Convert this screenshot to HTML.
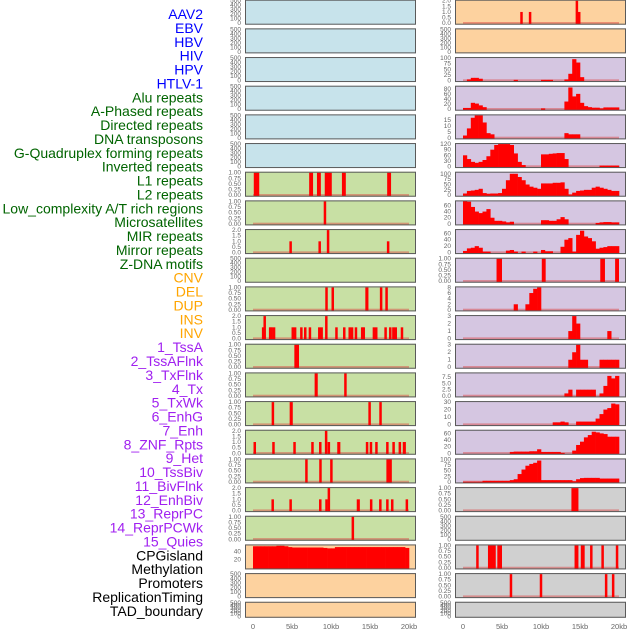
<!DOCTYPE html>
<html><head><meta charset="utf-8"><style>
html,body{margin:0;padding:0;background:#fff;width:630px;height:630px;overflow:hidden}
svg{display:block;font-family:"Liberation Sans",sans-serif}
</style></head><body>
<svg id="chart" width="630" height="630" viewBox="0 0 630 630" xmlns="http://www.w3.org/2000/svg"></svg>
<script>
// ---- data ----
const trackLabels = ["AAV2","EBV","HBV","HIV","HPV","HTLV-1","Alu repeats","A-Phased repeats","Directed repeats","DNA transposons","G-Quadruplex forming repeats","Inverted repeats","L1 repeats","L2 repeats","Low_complexity A/T rich regions","Microsatellites","MIR repeats","Mirror repeats","Z-DNA motifs","CNV","DEL","DUP","INS","INV","1_TssA","2_TssAFlnk","3_TxFlnk","4_Tx","5_TxWk","6_EnhG","7_Enh","8_ZNF_Rpts","9_Het","10_TssBiv","11_BivFlnk","12_EnhBiv","13_ReprPC","14_ReprPCWk","15_Quies","CPGisland","Methylation","Promoters","ReplicationTiming","TAD_boundary"];
const labelColors = ["#0000ff","#0000ff","#0000ff","#0000ff","#0000ff","#0000ff","#006400","#006400","#006400","#006400","#006400","#006400","#006400","#006400","#006400","#006400","#006400","#006400","#006400","#ffa500","#ffa500","#ffa500","#ffa500","#ffa500","#a020f0","#a020f0","#a020f0","#a020f0","#a020f0","#a020f0","#a020f0","#a020f0","#a020f0","#a020f0","#a020f0","#a020f0","#a020f0","#a020f0","#a020f0","#000","#000","#000","#000","#000"];
const xTickValues = [0,5,10,15,20];
const xTickLabels = ["0","5kb","10kb","15kb","20kb"];

// spikes: [startKb, endKb, value]
const aluSpikes = [[0.1,0.8,1],[7.2,7.7,1],[8.2,8.7,1],[9.2,10.1,1],[11.4,11.9,1],[17.2,17.7,1]];
const aPhasedSpikes = [[9.1,9.35,1]];
const directedSpikes = [[4.7,4.95,1],[8.4,8.7,1],[9.5,9.75,2],[17.2,17.45,1]];
const gquadSpikes = [[9.3,9.55,1],[10.1,10.35,1],[14.4,14.8,1],[16.3,16.55,1],[17.0,17.25,1]];
const invertedSpikes = [[1.2,1.4,1],[1.4,1.6,2],[2.1,2.3,1],[2.3,2.5,1],[2.6,2.8,1],[5.0,5.2,1],[5.3,5.5,1],[6.1,6.3,1],[6.6,6.8,1],[7.2,7.4,1],[8.4,8.6,1],[8.7,8.9,1],[9.3,9.5,2],[10.6,10.8,1],[11.6,11.8,1],[12.3,12.5,1],[12.6,12.8,1],[13.1,13.3,1],[13.9,14.1,1],[14.1,14.3,1],[15.4,15.6,1],[15.7,15.9,1],[16.9,17.1,1],[17.5,17.7,1],[17.9,18.1,1],[18.2,18.4,1],[19.0,19.2,1]];
const l1Spikes = [[5.3,5.9,1]];
const l2Spikes = [[7.9,8.3,1],[11.7,12.0,1]];
const lowComplexSpikes = [[2.4,2.7,1],[4.7,5.1,1],[14.8,15.1,1],[16.2,16.5,1]];
const microSpikes = [[0.1,0.35,1],[2.5,2.75,1],[5.2,5.45,1],[7.5,7.75,1],[8.5,8.75,1],[9.3,9.45,2],[9.6,9.85,1],[10.8,11.2,1],[14.5,14.75,1],[15.0,15.25,1],[15.7,15.95,1],[17.1,17.35,1],[17.9,18.15,1],[18.7,18.95,1],[19.2,19.6,1]];
const mirSpikes = [[6.7,7.0,1],[8.5,8.8,1],[9.9,10.2,1],[17.1,17.8,1]];
const mirrorSpikes = [[2.4,2.65,1],[4.7,4.95,1],[8.5,8.75,1],[9.3,9.55,1],[9.6,9.85,2],[13.3,13.7,1],[15.0,15.3,1],[16.2,16.45,1],[17.1,17.35,1],[17.7,18.0,1],[19.6,19.85,1]];
const zdnaSpikes = [[12.7,12.9,1]];
const insSpikes = [[7.4,7.6,1],[8.5,8.7,1],[14.5,14.7,2],[14.8,15.0,1]];
const znfSpikes = [[4.3,5.0,1],[10.1,10.6,1],[17.6,18.2,1],[19.5,20.0,1]];
const cpgSpikes = [[13.9,14.8,1]];
const promoterSpikes = [[1.7,2.0,1],[3.2,4.2,1],[4.4,5.0,1],[14.3,14.8,1],[15.1,15.6,1],[16.3,16.6,1],[17.8,18.0,1],[19.6,19.9,1]];
const replicationSpikes = [[6.0,6.3,1],[9.9,10.1,1],[18.2,18.5,1],[19.1,19.4,1]];

// profiles: 40 bins of 0.5 kb
const cnvBins = [52,52,52,52,52,52,53,53,52,50,49,49,49,49,49,49,49,49,48,47,47,50,50,50,50,50,50,50,50,50,50,50,50,50,50,50,50,50,50,48];
const tssABins = [0,5,12,12,8,0,0,0,0,0,0,0,0,3,0,0,0,0,0,0,3,3,3,0,0,0,5,30,95,80,15,0,0,0,0,0,0,0,0,0];
const tssAFlnkBins = [5,5,25,22,15,8,0,0,0,0,0,0,0,0,0,0,0,0,0,0,3,0,0,0,0,0,30,85,50,60,25,12,8,6,6,3,7,7,7,7];
const txFlnkBins = [2,8,17,19,19,13,4,3,0,0,0,0,0,0,0,0,0,0,0,0,0,0,0,0,0,0,4,3,3,3,0,0,0,0,0,0,0,0,0,0];
const txBins = [60,40,25,20,25,35,55,90,115,120,120,120,115,70,25,8,0,0,0,0,65,65,68,70,72,72,40,0,0,0,0,0,0,0,0,5,5,5,5,5];
const txWkBins = [8,20,22,25,30,10,7,8,8,10,30,70,100,100,85,70,50,40,35,30,55,55,55,58,58,60,30,3,12,20,22,25,25,35,40,35,30,25,20,20];
const enhGBins = [75,72,55,40,35,40,48,20,10,10,8,5,7,0,0,0,0,0,0,0,12,12,10,10,15,22,15,0,0,0,0,0,0,0,3,5,6,6,5,5];
const enhBins = [5,13,15,20,15,3,3,0,0,0,0,6,8,3,0,3,0,0,3,0,8,4,4,0,0,18,40,45,3,55,68,50,45,35,12,15,17,20,20,20];
const hetBins = [0,0,0,0,0,0,0,0,0,0,0,0,0,2,0,0,2,6,7.5,8,0,0,0,0,0,0,0,0,0,0,0,0,0,0,0,0,0,0,0,0];
const tssBivBins = [0,0,0,0,0,0,0,0,0,0,0,0,0,0,0,0,0,0,0,0,0,0,0,0,0,0,0,1,3,2,0,0,0,0,0,0,0,1,0,0];
const bivFlnkBins = [0,0,0,0,0,0,0,0,0,0,0,0,0,0,0,0,0,0,0,0,0,0,0,0,0,0,0,1,2,3,1,1,0,0,0,1,1,1,1,1];
const enhBivBins = [0,0,0,0,0,0,0,0,0,0,0,0,0,0,0,0,0,0,0,0,0,0,0,0,0,0,1,2.5,0,2.5,2.5,2.5,2.5,2.5,0,1,4,8,7,8];
const reprPCBins = [0,0,0,0,0,0,0,0,0,0,0,0,0,0,0,0,0,0,0,0,0,0,0,3,3,4,3,0,0,4,4,4,4,4,8,14,20,22,28,27];
const reprPCWkBins = [0,0,0,0,0,0,0,0,0,0,0,0,4,5,5,5,5,6,6,12,4,4,4,4,4,1,0,0,8,25,35,48,55,65,63,60,58,50,50,50];
const quiesBins = [1,1,1,1,1,5,5,5,5,5,5,5,8,12,35,55,72,80,85,95,8,8,8,8,8,8,8,8,3,12,17,18,18,18,18,15,15,15,15,15];

// ---- layout ----
const svg = document.getElementById('chart');
const NS = 'http://www.w3.org/2000/svg';
const BG = {v:'#c7e3eb', r:'#c8e0a4', s:'#fdd29f', c:'#d5c6e1', g:'#d0d0d0'};
const T_E = {t:[0,100,200,300,400,500], l:["0","100","200","300","400","500"], max:500};
const T_B = {t:[0,0.25,0.5,0.75,1], l:["0.00","0.25","0.50","0.75","1.00"], max:1};
const T_2 = {t:[0,0.5,1,1.5,2], l:["0.0","0.5","1.0","1.5","2.0"], max:2};
function tk(t,l,max){return {t:t,l:l,max:max};}
const panels = [
 // col 0
 {n:'AAV2',c:0,r:0,bg:'v',ax:T_E},{n:'EBV',c:0,r:1,bg:'v',ax:T_E},{n:'HBV',c:0,r:2,bg:'v',ax:T_E},
 {n:'HIV',c:0,r:3,bg:'v',ax:T_E},{n:'HPV',c:0,r:4,bg:'v',ax:T_E},{n:'HTLV-1',c:0,r:5,bg:'v',ax:T_E},
 {n:'alu',c:0,r:6,bg:'r',ax:T_B,s:aluSpikes},{n:'a-phased',c:0,r:7,bg:'r',ax:T_B,s:aPhasedSpikes},
 {n:'directed',c:0,r:8,bg:'r',ax:T_2,s:directedSpikes},{n:'dna-transposons',c:0,r:9,bg:'r',ax:T_E},
 {n:'g-quadruplex',c:0,r:10,bg:'r',ax:T_B,s:gquadSpikes},{n:'inverted',c:0,r:11,bg:'r',ax:T_2,s:invertedSpikes},
 {n:'l1',c:0,r:12,bg:'r',ax:T_B,s:l1Spikes},{n:'l2',c:0,r:13,bg:'r',ax:T_B,s:l2Spikes},
 {n:'low-complexity',c:0,r:14,bg:'r',ax:T_B,s:lowComplexSpikes},{n:'microsatellites',c:0,r:15,bg:'r',ax:T_2,s:microSpikes},
 {n:'mir',c:0,r:16,bg:'r',ax:T_B,s:mirSpikes},{n:'mirror',c:0,r:17,bg:'r',ax:T_2,s:mirrorSpikes},
 {n:'z-dna',c:0,r:18,bg:'r',ax:T_B,s:zdnaSpikes},
 {n:'cnv',c:0,r:19,bg:'s',ax:tk([20,40],["20","40"],54),b:cnvBins,noline:true},
 {n:'del',c:0,r:20,bg:'s',ax:T_E},{n:'dup',c:0,r:21,bg:'s',ax:T_E,h:16},
 // col 1
 {n:'ins',c:1,r:0,bg:'s',ax:T_2,s:insSpikes},{n:'inv',c:1,r:1,bg:'s',ax:T_E},
 {n:'tssa',c:1,r:2,bg:'c',ax:tk([0,25,50,75,100],["0","25","50","75","100"],100),b:tssABins},
 {n:'tssaflnk',c:1,r:3,bg:'c',ax:tk([0,20,40,60,80],["0","20","40","60","80"],88),b:tssAFlnkBins},
 {n:'txflnk',c:1,r:4,bg:'c',ax:tk([0,5,10,15],["0","5","10","15"],19),b:txFlnkBins},
 {n:'tx',c:1,r:5,bg:'c',ax:tk([0,30,60,90,120],["0","30","60","90","120"],120),b:txBins},
 {n:'txwk',c:1,r:6,bg:'c',ax:tk([0,25,50,75,100],["0","25","50","75","100"],105),b:txWkBins},
 {n:'enhg',c:1,r:7,bg:'c',ax:tk([0,20,40,60],["0","20","40","60"],73),b:enhGBins},
 {n:'enh',c:1,r:8,bg:'c',ax:tk([0,20,40,60],["0","20","40","60"],70),b:enhBins},
 {n:'znf',c:1,r:9,bg:'c',ax:T_B,s:znfSpikes},
 {n:'het',c:1,r:10,bg:'c',ax:tk([0,2,4,6,8],["0","2","4","6","8"],8),b:hetBins},
 {n:'tssbiv',c:1,r:11,bg:'c',ax:tk([0,1,2,3],["0","1","2","3"],3),b:tssBivBins},
 {n:'bivflnk',c:1,r:12,bg:'c',ax:tk([0,1,2,3],["0","1","2","3"],3),b:bivFlnkBins},
 {n:'enhbiv',c:1,r:13,bg:'c',ax:tk([0,2.5,5,7.5],["0.0","2.5","5.0","7.5"],9),b:enhBivBins},
 {n:'reprpc',c:1,r:14,bg:'c',ax:tk([0,10,20,30],["0","10","20","30"],30),b:reprPCBins},
 {n:'reprpcwk',c:1,r:15,bg:'c',ax:tk([0,20,40,60],["0","20","40","60"],68),b:reprPCWkBins},
 {n:'quies',c:1,r:16,bg:'c',ax:tk([0,25,50,75,100],["0","25","50","75","100"],100),b:quiesBins},
 {n:'cpgisland',c:1,r:17,bg:'g',ax:T_B,s:cpgSpikes},{n:'methylation',c:1,r:18,bg:'g',ax:T_E},
 {n:'promoters',c:1,r:19,bg:'g',ax:T_B,s:promoterSpikes},{n:'replication-timing',c:1,r:20,bg:'g',ax:T_B,s:replicationSpikes},
 {n:'tad-boundary',c:1,r:21,bg:'g',ax:T_E,h:16}
];
const FX = [245,455], FW = 171, X0 = [253,463], PXKB = 7.8;
function xs(c,kb){return X0[c]+kb*PXKB;}
function el(tag,attrs,parent){const e=document.createElementNS(NS,tag);for(const k in attrs)e.setAttribute(k,attrs[k]);(parent||svg).appendChild(e);return e;}

// labels
trackLabels.forEach((t,i)=>{
  const e=el('text',{x:203,y:14+13.88*i,'text-anchor':'end','dominant-baseline':'central','font-size':'14',fill:labelColors[i]});
  e.textContent=t;
  
  
});

panels.forEach(p=>{
  const top = 28.67*p.r - 0.3;
  const H = p.h||25;
  const bot = top+H;
  const g = el('g',{});
  
  
  el('rect',{x:FX[p.c],y:top,width:FW,height:H,fill:BG[p.bg]},g);
  const ys = v => (bot-1.5) - v/p.ax.max*(H-2.5);
  // ticks
  p.ax.t.forEach((v,i)=>{
    const t=el('text',{x:FX[p.c]-4,y:ys(v)+2,'text-anchor':'end','font-size':'6.5',fill:'#666'},g);
    t.textContent=p.ax.l[i];
    
    
  });
  // baseline line
  if(p.s||(p.b&&!p.noline)){
    const bl=el('rect',{x:xs(p.c,0),y:ys(0)-1.2,width:20*PXKB,height:2,fill:'rgba(220,60,60,0.45)'},g);
    
    
  }
  if(p.s){
    p.s.forEach(s=>{
      let x1=xs(p.c,s[0]),x2=xs(p.c,s[1]);
      if(x2-x1<2.5){const m=(x1+x2)/2;x1=m-1.25;x2=m+1.25;}
      const r=el('rect',{x:x1,y:ys(s[2]),width:x2-x1,height:ys(0)-ys(s[2])+1,fill:'#ff0000'},g);
      
      
    });
  }
  if(p.b){
    p.b.forEach((v,i)=>{
      if(!v)return;
      const x1=xs(p.c,i*0.5),x2=xs(p.c,i*0.5+0.5);
      const r=el('rect',{x:x1,y:ys(v),width:x2-x1+0.3,height:ys(0)-ys(v)+1,fill:'#ff0000'},g);
      
      
    });
  }
  el('rect',{x:FX[p.c]+0.5,y:top+0.5,width:FW-1,height:H-1,fill:'none',stroke:'#5a5a5a','stroke-width':'1'},g);
});

// x axes
[0,1].forEach(c=>{
  xTickValues.forEach((v,i)=>{
    const t=el('text',{x:xs(c,v),y:629,'text-anchor':'middle','font-size':'7.5',fill:'#666'});
    t.textContent=xTickLabels[i];
    
    
  });
});
</script>
</body></html>
